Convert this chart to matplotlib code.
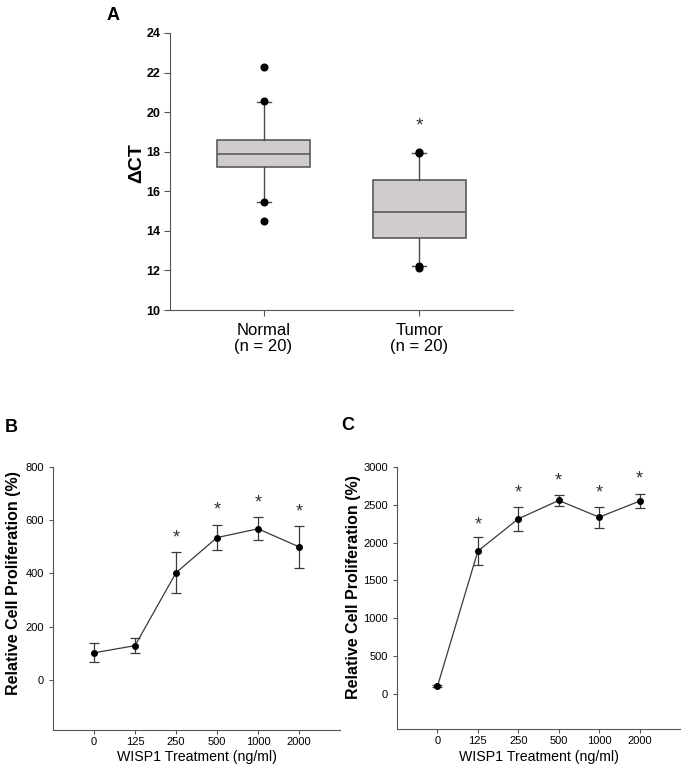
import matplotlib.pyplot as plt
import numpy as np

plt.rcParams['font.family'] = ['Liberation Sans', 'DejaVu Sans']

# panel A: box summary
groups = ['Normal\n(n = 20)', 'Tumor\n(n = 20)']
q1 = [17.22, 13.64]
med = [17.9, 14.94]
q3 = [18.57, 16.55]
whislo = [15.48, 12.24]
whishi = [20.51, 17.93]
fliers = [[22.27, 20.57, 15.45, 14.48], [18.0, 17.95, 12.2, 12.13]]
star_a = [None, 19.3]

# panels B and C
doses = ['0', '125', '250', '500', '1000', '2000']
prolif_b = [102, 129, 403, 535, 568, 500]
err_b = [35, 27, 77, 48, 43, 78]
star_b = [None, None, 535, 640, 666, 632]
prolif_c = [100, 1888, 2315, 2558, 2337, 2549]
err_c = [15, 180, 160, 78, 140, 95]
star_c = [None, 2240, 2655, 2818, 2655, 2840]

fig = plt.figure(figsize=(6.85, 7.78), dpi=100)

ax = fig.add_axes([0.2482, 0.6015, 0.5007, 0.3561])
stats = []
for i in range(2):
    stats.append(dict(q1=q1[i], med=med[i], q3=q3[i], whislo=whislo[i],
                      whishi=whishi[i], fliers=fliers[i]))
ax.bxp(stats, positions=[1, 2], widths=0.6, patch_artist=True,
       boxprops=dict(facecolor='#cfcccb', edgecolor='#5a5a5a', linewidth=1.2),
       medianprops=dict(color='#5a5a5a', linewidth=1.2),
       whiskerprops=dict(color='#4a4a4a', linewidth=1),
       capprops=dict(color='#4a4a4a', linewidth=1), capwidths=0.09,
       flierprops=dict(marker='o', markerfacecolor='black', markeredgecolor='black',
                       markersize=4.8))
for i, s in enumerate(star_a):
    if s is not None:
        ax.text(i + 1, s, '*', ha='center', va='center', fontsize=14, color='#333333')
ax.set_xlim(0.4, 2.6)
ax.set_ylim(10, 24)
ax.set_yticks(range(10, 25, 2))
ax.set_xticks([1, 2])
ax.set_xticklabels(groups, fontsize=12, linespacing=1.1)
for t in ax.get_yticklabels():
    t.set_fontweight('bold')
    t.set_fontsize(9)
ax.set_ylabel('ΔCT', fontsize=14, fontweight='bold')
ax.yaxis.set_label_coords(-0.073, 0.531)
for sp in ['top', 'right']:
    ax.spines[sp].set_visible(False)
for sp in ['left', 'bottom']:
    ax.spines[sp].set_color('#555555')
ax.tick_params(direction='out', length=4, color='#555555', pad=3)
ax.tick_params(axis='x', pad=5)


def line_panel(rect, vals, errs, stars, ylim, yticks, ylab_xy, xlab_y):
    a = fig.add_axes(rect)
    x = np.arange(len(doses))
    a.errorbar(x, vals, yerr=errs, fmt='-o', color='#3a3a3a', mfc='black', mec='black',
               ms=4, lw=0.9, ecolor='#3a3a3a', elinewidth=0.9, capsize=3.5, capthick=0.9)
    for xi, s in zip(x, stars):
        if s is not None:
            a.text(xi, s, '*', ha='center', va='center', fontsize=13, color='#333333')
    a.set_xlim(-1, 6)
    a.set_ylim(*ylim)
    a.set_yticks(yticks)
    a.set_xticks(x)
    a.set_xticklabels(doses)
    a.tick_params(labelsize=8, direction='out', length=3, color='#555555')
    a.tick_params(axis='x', pad=2)
    a.set_ylabel('Relative Cell Proliferation (%)', fontsize=11.5, fontweight='bold')
    a.yaxis.set_label_coords(*ylab_xy)
    a.set_xlabel('WISP1 Treatment (ng/ml)', fontsize=10.2)
    a.xaxis.set_label_coords(0.5, xlab_y)
    for sp in ['top', 'right']:
        a.spines[sp].set_visible(False)
    for sp in ['left', 'bottom']:
        a.spines[sp].set_color('#555555')
    return a


line_panel([0.0774, 0.0617, 0.419, 0.338], prolif_b, err_b, star_b,
           (-188, 800), range(0, 801, 200), (-0.111, 0.559), -0.077)
line_panel([0.5796, 0.063, 0.4131, 0.3367], prolif_c, err_c, star_c,
           (-465, 3000), range(0, 3001, 500), (-0.127, 0.542), -0.081)

fig.text(113 / 685, 1 - 15 / 778, 'A', fontsize=13, fontweight='bold', va='center', ha='center')
fig.text(11 / 685, 1 - 428 / 778, 'B', fontsize=13, fontweight='bold', va='center', ha='center')
fig.text(348 / 685, 1 - 426 / 778, 'C', fontsize=13, fontweight='bold', va='center', ha='center')

fig.savefig('out.png', dpi=100)
